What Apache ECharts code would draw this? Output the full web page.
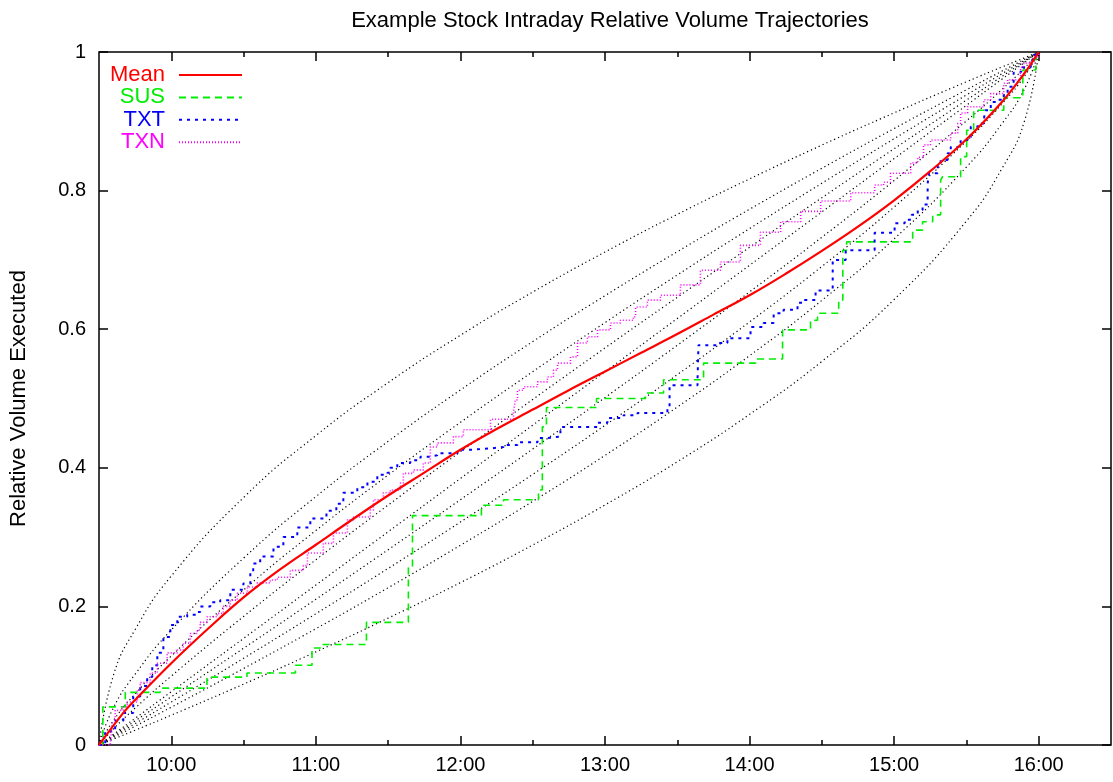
<!DOCTYPE html>
<html>
<head>
<meta charset="utf-8">
<title>Relative Volume Trajectories</title>
<script src="https://cdn.jsdelivr.net/npm/echarts@6/dist/echarts.min.js"></script>
<style>
  html, body { margin: 0; padding: 0; background: #fff; }
  #chart { width: 1113px; height: 782px; }
</style>
</head>
<body>
<div id="chart"></div>
<script>
// time is in minutes after midnight (570 = 9:30, 960 = 16:00)
var refTimes = [570, 576, 585, 600, 630, 660, 690, 720, 750, 780, 810, 840, 870, 900, 930, 945, 954, 960];

// grey reference trajectories at refTimes
var refCurves = [
  [0, .1007, .1666, .2439, .3571, .4465, .5229, .5913, .6536, .7114, .7657, .8169, .8656, .9122, .9570, .9787, .9915, 1],
  [0, .0538, .1022, .1660, .2697, .3584, .4382, .5123, .5821, .6484, .7118, .7731, .8322, .8896, .9455, .9729, .9892, 1],
  [0, .0354, .0738, .1285, .2237, .3095, .3895, .4656, .5387, .6095, .6782, .7452, .8106, .8749, .9380, .9691, .9877, 1],
  [0, .0233, .0533, .0994, .1855, .2673, .3462, .4232, .4986, .5729, .6460, .7182, .7897, .8604, .9305, .9653, .9861, 1],
  [0, .0154, .0385, .0769, .1538, .2308, .3077, .3846, .4615, .5385, .6154, .6923, .7692, .8462, .9231, .9615, .9846, 1],
  [0, .0139, .0347, .0695, .1396, .2103, .2818, .3540, .4271, .5014, .5768, .6538, .7327, .8145, .9006, .9467, .9767, 1],
  [0, .0123, .0309, .0620, .1251, .1894, .2548, .3218, .3905, .4613, .5344, .6105, .6905, .7763, .8715, .9262, .9646, 1],
  [0, .0108, .0271, .0545, .1104, .1678, .2269, .2882, .3516, .4179, .4877, .5618, .6416, .7303, .8340, .8978, .9462, 1],
  [0, .0085, .0213, .0430, .0878, .1344, .1831, .2343, .2886, .3464, .4087, .4771, .5535, .6429, .7561, .8334, .8993, 1]
];

var meanData = [[570,0],[580,0.046],[585,0.065],[600,0.118],[615,0.167],[630,0.213],[645,0.253],[660,0.289],
  [675,0.325],[690,0.36],[705,0.393],[720,0.426],[735,0.456],[750,0.484],[765,0.512],[780,0.539],[795,0.566],
  [810,0.593],[825,0.621],[840,0.649],[855,0.68],[870,0.713],[885,0.748],[900,0.786],[915,0.828],[930,0.874],
  [945,0.929],[954,0.969],[960,1]];

var susData = [[570,0],[571.6,0.055],[580.9,0.076],[595.4,0.082],[614.8,0.098],[631.4,0.104],[651.5,0.115],
  [658.4,0.14],[661.9,0.145],[681,0.177],[698.4,0.257],[700.1,0.331],[728.7,0.346],[737.9,0.354],[752.4,0.368],
  [754,0.459],[755.7,0.487],[776.5,0.5],[796.8,0.508],[804.3,0.527],[820.9,0.551],[842.5,0.557],[853.7,0.599],
  [865.3,0.613],[868.2,0.623],[877,0.642],[878.7,0.714],[880.3,0.726],[907.7,0.743],[911.8,0.755],[916,0.765],
  [919.3,0.815],[920.1,0.82],[927.6,0.849],[930.1,0.887],[933,0.916],[945.5,0.934],[953.4,0.974],[958.8,0.998],[960,1]];

var txtData = [[570,0],[572.6,0.02],[576.7,0.035],[580.1,0.046],[584.2,0.07],[587.1,0.085],[590,0.098],[592.1,0.115],
  [594.2,0.133],[596.7,0.156],[599.6,0.173],[602.5,0.185],[606.6,0.188],[610.8,0.192],[612,0.2],[616.2,0.206],
  [620.3,0.209],[624.5,0.224],[629.9,0.233],[632.8,0.248],[634,0.262],[636.9,0.272],[642.4,0.286],[646.5,0.3],
  [652.3,0.314],[657.7,0.327],[664.4,0.338],[668.5,0.348],[671.4,0.364],[677.2,0.372],[681.4,0.38],[685.5,0.39],
  [689.7,0.393],[690.9,0.4],[693.8,0.407],[699.2,0.411],[703.4,0.416],[707.5,0.418],[710.4,0.421],[718.8,0.426],
  [724.2,0.428],[732.5,0.43],[737.9,0.433],[743.7,0.437],[752,0.443],[756.1,0.445],[761.5,0.459],[776.9,0.465],
  [781,0.472],[787.7,0.476],[793.5,0.479],[805.9,0.488],[806.8,0.519],[818.4,0.527],[818.8,0.577],[826.7,0.58],
  [830.8,0.587],[840.4,0.603],[845.8,0.609],[850,0.623],[854.1,0.628],[859.9,0.638],[862.4,0.642],[867.4,0.656],
  [874.5,0.7],[879.9,0.714],[891.9,0.739],[900.2,0.753],[904.4,0.758],[907.3,0.765],[909.8,0.772],[911.8,0.78],
  [913.9,0.81],[914.5,0.825],[918.1,0.84],[919.3,0.844],[922.2,0.854],[923.5,0.863],[927.6,0.873],[930.5,0.877],
  [931.8,0.892],[934.7,0.897],[937.2,0.902],[937.8,0.916],[940.1,0.928],[943,0.931],[945.5,0.938],[947.1,0.95],
  [949.6,0.97],[952.5,0.978],[956.7,0.988],[957.9,0.996],[960,1]];

var txnData = [[570,0],[574.7,0.003],[575.5,0.032],[576.7,0.05],[580.1,0.055],[581.7,0.062],[585.9,0.079],[587.1,0.09],
  [591.3,0.104],[594.2,0.118],[598.3,0.133],[602.5,0.137],[605,0.147],[607.9,0.161],[610.8,0.166],[612,0.177],
  [614.9,0.185],[619.1,0.19],[621.6,0.2],[624.5,0.209],[627.4,0.219],[631.6,0.228],[635.7,0.234],[641.1,0.238],
  [644,0.242],[649.4,0.252],[654.8,0.259],[656.5,0.277],[663.1,0.291],[667.3,0.306],[673.1,0.325],[675.6,0.329],
  [682.6,0.339],[683.9,0.354],[688,0.364],[690.9,0.368],[695.1,0.378],[696.3,0.392],[700.5,0.397],[704.6,0.407],
  [707.5,0.43],[710.4,0.436],[717.1,0.445],[721.2,0.455],[732.5,0.47],[742,0.481],[742.8,0.498],[743.7,0.512],
  [746.2,0.517],[752,0.524],[756.1,0.531],[758.6,0.541],[760.3,0.551],[765.7,0.56],[768.6,0.58],[772.7,0.589],
  [776.9,0.599],[782.3,0.609],[786.4,0.613],[791.8,0.618],[792.7,0.632],[797.6,0.642],[803,0.649],[811.3,0.664],
  [819.6,0.685],[827.9,0.697],[836.2,0.721],[844.5,0.74],[852.9,0.755],[861.2,0.77],[869.5,0.785],[882,0.797],
  [891.9,0.808],[895.6,0.812],[898.5,0.825],[906.9,0.84],[909.8,0.848],[912.2,0.866],[915.1,0.873],[923.5,0.883],
  [926.4,0.897],[927.6,0.912],[930.5,0.921],[937.2,0.931],[940.1,0.94],[945.5,0.955],[947.1,0.96],[952.5,0.978],
  [953.8,0.984],[957.9,0.993],[960,1]];

var hourTicks = [600, 660, 720, 780, 840, 900, 960];
var halfTicks = [630, 690, 750, 810, 870, 930];
var names = ['Mean', 'SUS', 'TXT', 'TXN'];
var colors = ['#ff0000', '#00ee00', '#0000ff', '#ff00ff'];

var font = 'Liberation Sans, Arial, sans-serif';
var myChart = echarts.init(document.getElementById('chart'), null, {renderer: 'canvas'});

function fmtTime(v) {
  var h = Math.floor(v / 60), m = Math.round(v - h * 60);
  return h + ':' + (m < 10 ? '0' : '') + m;
}

function xAx(pos, ticks, len, labels) {
  return {
    type: 'value', position: pos, min: 570, max: 990, interval: 30,
    axisLine: {show: false},
    axisTick: {show: true, inside: true, length: len, customValues: ticks,
      lineStyle: {color: '#000', width: 1.5}},
    axisLabel: labels ? {show: true, customValues: ticks, formatter: fmtTime,
      color: '#000', fontSize: 20, fontFamily: font, margin: 10} : {show: false},
    splitLine: {show: false}
  };
}

var series = [];
refCurves.forEach(function (vals, i) {
  series.push({
    name: 'ref' + i, type: 'line', silent: true, smooth: 0.5,
    symbol: 'none', z: 1,
    data: refTimes.map(function (t, k) { return [t, vals[k]]; }),
    lineStyle: {color: '#000', width: 1.2, type: [1.2, 3]}
  });
});
series.push({
  name: 'Mean', type: 'line', smooth: 0.4, symbol: 'none', z: 5, data: meanData,
  lineStyle: {color: colors[0], width: 2.2, type: 'solid'}, itemStyle: {color: colors[0]}
});
series.push({
  name: 'SUS', type: 'line', step: 'end', symbol: 'none', z: 4, data: susData,
  lineStyle: {color: colors[1], width: 1.6, type: [7, 5]}, itemStyle: {color: colors[1]}
});
series.push({
  name: 'TXT', type: 'line', step: 'end', symbol: 'none', z: 4, data: txtData,
  lineStyle: {color: colors[2], width: 2, type: [3, 5]}, itemStyle: {color: colors[2]}
});
series.push({
  name: 'TXN', type: 'line', step: 'end', symbol: 'none', z: 4, data: txnData,
  lineStyle: {color: colors[3], width: 1.6, type: [1, 2]}, itemStyle: {color: colors[3]}
});

var legends = names.map(function (n, i) {
  return {
    data: [n], orient: 'vertical', align: 'right', right: 865, top: 59 + i * 22.4,
    itemWidth: 63, itemHeight: 12, selectedMode: false,
    itemStyle: {opacity: 0},
    textStyle: {color: colors[i], fontSize: 22, fontFamily: font, padding: [0, 9, 0, 0]}
  };
});

var option = {
  backgroundColor: '#fff',
  animation: false,
  title: {
    text: 'Example Stock Intraday Relative Volume Trajectories',
    left: 605, top: 5, textAlign: 'center',
    textStyle: {color: '#000', fontSize: 22, fontWeight: 'normal', fontFamily: font}
  },
  legend: legends,
  grid: {left: 97, right: 2, top: 52, bottom: 37, show: true, borderColor: '#000', borderWidth: 1.5},
  xAxis: [
    xAx('bottom', hourTicks, 9, true),
    xAx('bottom', halfTicks, 5, false),
    xAx('top', hourTicks, 9, false),
    xAx('top', halfTicks, 5, false)
  ],
  yAxis: [
    {
      type: 'value', min: 0, max: 1, interval: 0.2, position: 'left',
      name: 'Relative Volume Executed', nameLocation: 'middle', nameGap: 69, nameRotate: 90,
      nameTextStyle: {color: '#000', fontSize: 22, fontFamily: font},
      axisLine: {show: false},
      axisTick: {show: true, inside: true, length: 9, lineStyle: {color: '#000', width: 1.5}},
      axisLabel: {color: '#000', fontSize: 20, fontFamily: font, margin: 13},
      splitLine: {show: false}
    },
    {
      type: 'value', min: 0, max: 1, interval: 0.2, position: 'right',
      axisLine: {show: false},
      axisTick: {show: true, inside: true, length: 9, lineStyle: {color: '#000', width: 1.5}},
      axisLabel: {show: false},
      splitLine: {show: false}
    }
  ],
  series: series
};
myChart.setOption(option);
</script>
</body>
</html>
